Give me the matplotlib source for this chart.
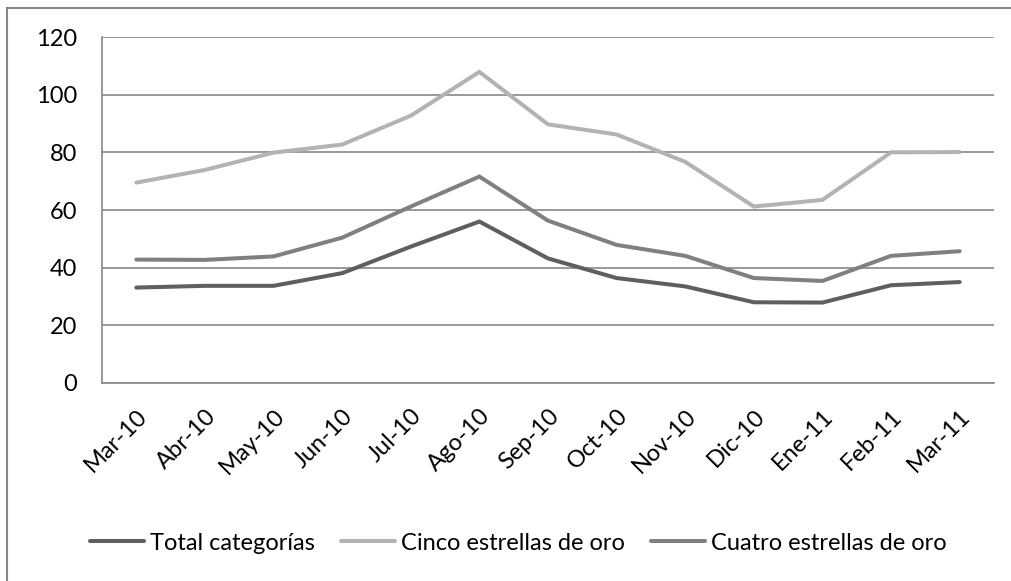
import numpy as np
import matplotlib.pyplot as plt
from matplotlib.patches import Rectangle

plt.rcParams['font.family'] = ['Lato', 'DejaVu Sans']

meses = ['Mar-10', 'Abr-10', 'May-10', 'Jun-10', 'Jul-10', 'Ago-10', 'Sep-10',
         'Oct-10', 'Nov-10', 'Dic-10', 'Ene-11', 'Feb-11', 'Mar-11']
total = [33.1, 33.7, 33.7, 38.1, 47.3, 56.0, 43.2, 36.4, 33.5, 28.0, 27.9, 33.9, 35.0]
cinco = [69.5, 73.9, 79.9, 82.7, 92.7, 107.9, 89.7, 86.2, 76.7, 61.2, 63.5, 80.0, 80.1]
cuatro = [42.8, 42.7, 43.9, 50.4, 61.2, 71.6, 56.3, 47.9, 44.1, 36.4, 35.4, 44.1, 45.7]

series = [('Total categorías', total, '#5f5f5f'),
          ('Cinco estrellas de oro', cinco, '#b3b3b3'),
          ('Cuatro estrellas de oro', cuatro, '#808080')]

fig = plt.figure(figsize=(10.12, 5.81), dpi=100)
ax = fig.add_axes([0.1008, 0.3408, 0.8814, 0.5955])

x = np.arange(len(meses))
for nombre, vals, col in series:
    ax.plot(x, vals, color=col, lw=2.9, solid_capstyle='round',
            solid_joinstyle='miter', label=nombre)

ax.set_xlim(-0.5, len(meses) - 0.5)
ax.set_ylim(0, 120)
ax.set_yticks(range(0, 121, 20))
ax.yaxis.grid(True, color='#888888', lw=1.2)
ax.set_axisbelow(True)
ax.tick_params(length=0, labelsize=17, colors='black')
ax.tick_params(axis='y', pad=18)
ax.set_xticks(x)
ax.set_xticklabels(meses, rotation=45, ha='right', rotation_mode='anchor')
ax.tick_params(axis='x', pad=16)

for s in ['top', 'right']:
    ax.spines[s].set_visible(False)
for s in ['left', 'bottom']:
    ax.spines[s].set_color('#888888')
    ax.spines[s].set_linewidth(1.2)

fig.legend(loc='center', bbox_to_anchor=(0.512, 1 - 543 / 581), ncol=3,
           frameon=False, fontsize=17, handlelength=2.3, handletextpad=0.25,
           columnspacing=1.1)

# chart border
fig.patches.append(Rectangle((7 / 1012, -0.05), 1.1, 1 - 8 / 581 + 0.05,
                             transform=fig.transFigure, fill=False,
                             edgecolor='#888888', lw=1.5))

fig.savefig('out.png', dpi=100)
